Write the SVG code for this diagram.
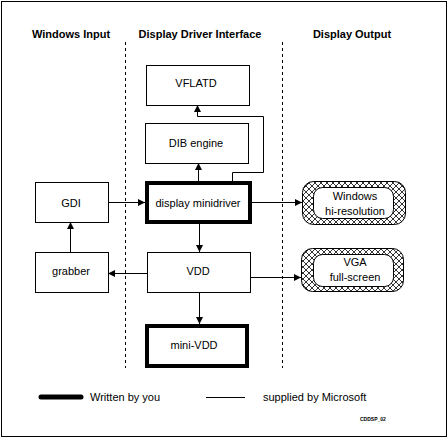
<svg xmlns="http://www.w3.org/2000/svg" width="448" height="438" viewBox="0 0 448 438">
<style>
text{font-family:"Liberation Sans",Arial,sans-serif;font-size:11px;fill:#000;text-anchor:middle}
.h{font-weight:bold}
.box{fill:#fff;stroke:#000;stroke-width:1}
.thick{fill:#fff;stroke:#000;stroke-width:4}
.ln{fill:none;stroke:#000;stroke-width:1}
.dash{stroke:#000;stroke-width:1;stroke-dasharray:3 3}
</style>
<defs>
<pattern id="hatch" patternUnits="userSpaceOnUse" width="6" height="6">
<rect width="6" height="6" fill="#fff"/>
<path d="M0,0 L6,6 M6,0 L0,6 M-1,5 L1,7 M5,-1 L7,1 M-1,1 L1,-1 M5,7 L7,5" stroke="#000" stroke-width="0.8"/>
</pattern>
<marker id="ar" viewBox="0 0 8 8" refX="8" refY="4" markerWidth="7" markerHeight="7" markerUnits="userSpaceOnUse" orient="auto">
<path d="M0,0 L8,4 L0,8 Z" fill="#000"/>
</marker>
</defs>
<rect x="1.5" y="1.5" width="445" height="435" fill="#fff" stroke="#000" stroke-width="1"/>
<g id="headings">
<text class="h" x="71" y="38">Windows Input</text>
<text class="h" x="200" y="38">Display Driver Interface</text>
<text class="h" x="352" y="38">Display Output</text>
</g>
<g id="dividers">
<line class="dash" x1="125.5" y1="42" x2="125.5" y2="368"/>
<line class="dash" x1="282.5" y1="42" x2="282.5" y2="368"/>
</g>
<g id="connectors">
<line class="ln" x1="108" y1="202.5" x2="145" y2="202.5" marker-end="url(#ar)"/>
<line class="ln" x1="252" y1="202.5" x2="302" y2="202.5" marker-end="url(#ar)"/>
<line class="ln" x1="199.5" y1="224" x2="199.5" y2="252" marker-end="url(#ar)"/>
<line class="ln" x1="147" y1="273.5" x2="108" y2="273.5" marker-end="url(#ar)"/>
<line class="ln" x1="250" y1="277.5" x2="301" y2="277.5" marker-end="url(#ar)"/>
<line class="ln" x1="70.5" y1="252" x2="70.5" y2="222" marker-end="url(#ar)"/>
<line class="ln" x1="198.5" y1="181" x2="198.5" y2="163" marker-end="url(#ar)"/>
<polyline class="ln" points="232.5,181 232.5,172.5 263.5,172.5 263.5,116.5 197.5,116.5 197.5,105" marker-end="url(#ar)"/>
<line class="ln" x1="199.5" y1="292" x2="199.5" y2="324" marker-end="url(#ar)"/>
</g>
<g id="vflatd">
<rect class="box" x="146.5" y="65.5" width="103" height="40"/>
<text x="196" y="87">VFLATD</text>
</g>
<g id="dib">
<rect class="box" x="145.5" y="123.5" width="103" height="40"/>
<text x="196" y="147">DIB engine</text>
</g>
<g id="minidriver">
<rect class="thick" x="147" y="183" width="103" height="39"/>
<text x="198" y="207">display minidriver</text>
</g>
<g id="gdi">
<rect class="box" x="35.5" y="182.5" width="73" height="40"/>
<text x="71" y="207">GDI</text>
</g>
<g id="grabber">
<rect class="box" x="35.5" y="252.5" width="73" height="40"/>
<text x="71" y="275">grabber</text>
</g>
<g id="vdd">
<rect class="box" x="147.5" y="252.5" width="103" height="40"/>
<text x="198" y="275">VDD</text>
</g>
<g id="minivdd">
<rect class="thick" x="147" y="326" width="100" height="40"/>
<text x="194" y="349">mini-VDD</text>
</g>
<g id="winhires">
<rect x="302.5" y="181.5" width="103" height="43" rx="11" fill="url(#hatch)" stroke="#000"/>
<rect x="313.5" y="187.5" width="80" height="31" rx="9" fill="#fff" stroke="#000"/>
<text x="355" y="200">Windows</text>
<text x="355" y="215">hi-resolution</text>
</g>
<g id="vga">
<rect x="301.5" y="248.5" width="102" height="43" rx="11" fill="url(#hatch)" stroke="#000"/>
<rect x="313.5" y="254.5" width="80" height="32" rx="9" fill="#fff" stroke="#000"/>
<text x="355" y="266">VGA</text>
<text x="355" y="281">full-screen</text>
</g>
<g id="legend">
<line x1="41" y1="397" x2="81" y2="397" stroke="#000" stroke-width="5" stroke-linecap="round"/>
<text x="90" y="401" style="text-anchor:start">Written by you</text>
<line x1="206" y1="397.5" x2="245" y2="397.5" stroke="#000" stroke-width="1"/>
<text x="263" y="401" style="text-anchor:start">supplied by Microsoft</text>
<text x="360" y="421" style="text-anchor:start;font-size:5px;font-weight:bold">CDDSP_02</text>
</g>
</svg>
